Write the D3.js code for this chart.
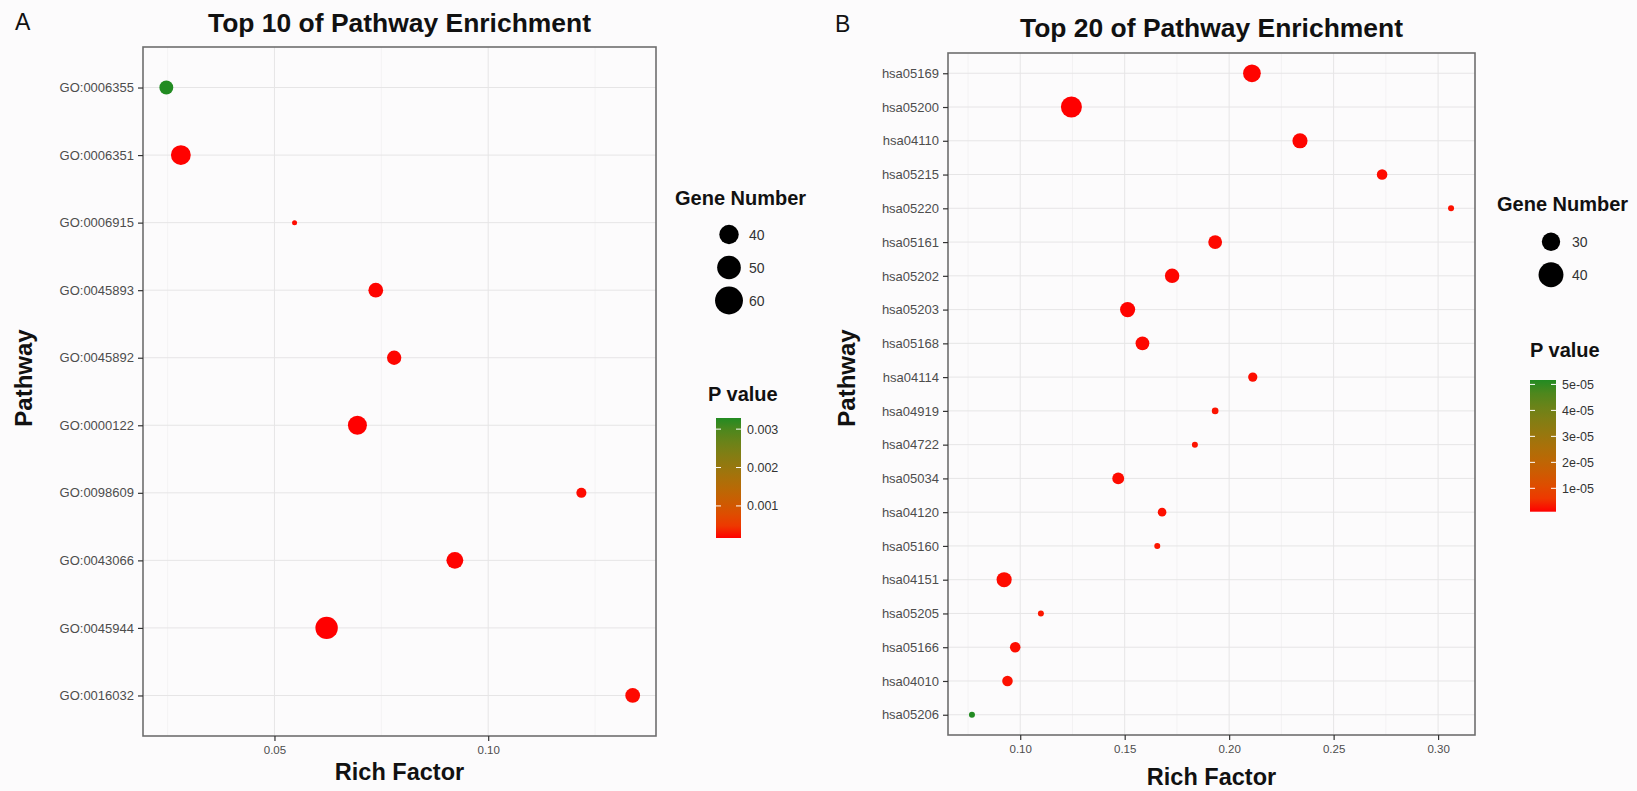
<!DOCTYPE html>
<html>
<head>
<meta charset="utf-8">
<script src="https://cdn.jsdelivr.net/npm/d3@7"></script>
<style>
  body { margin: 0; background: #fcfbfc; }
  svg { display: block; font-family: "Liberation Sans", Arial, sans-serif; }
  .tick text { fill: #4d4d4d; }
</style>
</head>
<body>
<script>
// Panel A: top 10
const rutasA  = ["GO:0006355", "GO:0006351", "GO:0006915", "GO:0045893", "GO:0045892",
                 "GO:0000122", "GO:0098609", "GO:0043066", "GO:0045944", "GO:0016032"];
const factorA = [0.0247, 0.0281, 0.0547, 0.0737, 0.0780, 0.0694, 0.1218, 0.0922, 0.0622, 0.1338];
const genesA  = [27, 41, 6, 29, 28, 39, 18, 34, 47, 29];
const pvalA   = [0.00329, 0.00017, 0.00019, 0.000175, 0.00018, 0.000165, 0.00019, 0.00017, 0.000165, 0.000185];
const ticksXA = [0.05, 0.10];
const leyendaGenesA = [40, 50, 60];
const ticksPA = [0.001, 0.002, 0.003];

// Panel B: top 20
const rutasB  = ["hsa05169", "hsa05200", "hsa04110", "hsa05215", "hsa05220", "hsa05161", "hsa05202",
                 "hsa05203", "hsa05168", "hsa04114", "hsa04919", "hsa04722", "hsa05034", "hsa04120",
                 "hsa05160", "hsa04151", "hsa05205", "hsa05166", "hsa04010", "hsa05206"];
const factorB = [0.2109, 0.1245, 0.2339, 0.2732, 0.3062, 0.1933, 0.1727, 0.1514, 0.1585, 0.2113,
                 0.1933, 0.1836, 0.1469, 0.1679, 0.1656, 0.0923, 0.1099, 0.0976, 0.0939, 0.0769];
const genesB  = [29, 34, 25, 18, 11, 23, 24, 25, 23, 16, 12, 11, 20, 15, 11, 25, 11, 18, 18, 11];
const pvalB   = [1.1e-6, 1.0e-6, 1.2e-6, 1.4e-6, 1.7e-6, 1.3e-6, 1.2e-6, 1.1e-6, 1.3e-6, 1.5e-6,
                 1.8e-6, 1.9e-6, 1.4e-6, 1.6e-6, 2.0e-6, 1.4e-6, 2.1e-6, 1.5e-6, 1.7e-6, 5.17e-5];
const ticksXB = [0.10, 0.15, 0.20, 0.25, 0.30];
const leyendaGenesB = [30, 40];
const ticksPB = [1e-5, 2e-5, 3e-5, 4e-5, 5e-5];

const svg = d3.select('body').append('svg')
  .attr('width', 1637).attr('height', 791);

svg.append('rect').attr('width', 1637).attr('height', 791).attr('fill', '#fcfbfc');

const formatoExp = d => d.toExponential(0).replace(/e-(\d)$/, 'e-0$1');

function dibujarPanel(p) {
  const g = svg.append('g');
  const [lo, hi] = d3.extent(p.factor);
  const w = hi - lo;

  const x = d3.scaleLinear().domain([lo - 0.05 * w, hi + 0.05 * w]).range([p.izq, p.der]);
  const y = d3.scalePoint().domain(p.rutas).range([p.arriba, p.abajo]).padding(0.6);
  const r = d3.scaleLinear().domain(d3.extent(p.genes)).range(p.radio);
  const color = d3.scaleLinear().domain(d3.extent(p.pval))
    .range(['#ff0000', '#228b22']).interpolate(d3.interpolateLab);

  // rejilla menor
  const paso = p.ticksX[1] - p.ticksX[0];
  const menores = [];
  for (let v = p.ticksX[0] - paso / 2; v <= x.domain()[1]; v += paso) {
    if (v >= x.domain()[0]) menores.push(v);
  }
  g.selectAll('line.menor').data(menores).join('line')
    .attr('x1', d => x(d)).attr('x2', d => x(d))
    .attr('y1', p.arriba).attr('y2', p.abajo)
    .attr('stroke', '#f1f0f1').attr('stroke-width', 0.8);

  // rejilla mayor
  g.selectAll('line.mayorx').data(p.ticksX).join('line')
    .attr('x1', d => x(d)).attr('x2', d => x(d))
    .attr('y1', p.arriba).attr('y2', p.abajo)
    .attr('stroke', '#e6e5e6').attr('stroke-width', 1);
  g.selectAll('line.mayory').data(p.rutas).join('line')
    .attr('x1', p.izq).attr('x2', p.der)
    .attr('y1', d => y(d)).attr('y2', d => y(d))
    .attr('stroke', '#e6e5e6').attr('stroke-width', 1);

  // puntos
  g.selectAll('circle.punto').data(p.rutas).join('circle')
    .attr('cx', (d, i) => x(p.factor[i]))
    .attr('cy', d => y(d))
    .attr('r', (d, i) => r(p.genes[i]))
    .attr('fill', (d, i) => color(p.pval[i]));

  // borde
  g.append('rect')
    .attr('x', p.izq).attr('y', p.arriba)
    .attr('width', p.der - p.izq).attr('height', p.abajo - p.arriba)
    .attr('fill', 'none').attr('stroke', '#6e6e6e').attr('stroke-width', 1.6);

  // ejes
  const ejeY = g.append('g').attr('transform', `translate(${p.izq},0)`)
    .call(d3.axisLeft(y).tickSize(5).tickPadding(4));
  const ejeX = g.append('g').attr('transform', `translate(0,${p.abajo})`)
    .call(d3.axisBottom(x).tickValues(p.ticksX).tickFormat(d3.format('.2f')).tickSize(5).tickPadding(5));
  [ejeY, ejeX].forEach(e => {
    e.select('.domain').remove();
    e.selectAll('.tick line').attr('stroke', '#333').attr('stroke-width', 1.2);
  });
  ejeY.selectAll('.tick text').style('font-size', '13px').style('font-family', 'inherit');
  ejeX.selectAll('.tick text').style('font-size', '11.5px').style('font-family', 'inherit');

  // textos
  g.append('text').attr('x', p.letraX).attr('y', p.letraY)
    .style('font-size', '23px').attr('fill', '#111').text(p.letra);
  g.append('text').attr('x', (p.izq + p.der) / 2).attr('y', p.tituloY)
    .attr('text-anchor', 'middle').style('font-size', '25px').style('font-weight', 'bold')
    .attr('textLength', 383).attr('lengthAdjust', 'spacingAndGlyphs')
    .attr('fill', '#111').text(p.titulo);
  g.append('text').attr('x', (p.izq + p.der) / 2).attr('y', p.richY)
    .attr('text-anchor', 'middle').style('font-size', '23.5px').style('font-weight', 'bold')
    .attr('fill', '#111').text('Rich Factor');
  g.append('text')
    .attr('transform', `translate(${p.pathX},${p.pathY}) rotate(-90)`)
    .attr('text-anchor', 'middle').style('font-size', '24px').style('font-weight', 'bold')
    .attr('fill', '#111').text('Pathway');

  // leyenda tamaño
  g.append('text').attr('x', p.leyTituloX).attr('y', p.leyTituloY)
    .style('font-size', '20px').style('font-weight', 'bold').attr('fill', '#111').text('Gene Number');
  const ley = g.selectAll('g.ley').data(p.leyenda).join('g')
    .attr('transform', (d, i) => `translate(${p.leyX},${p.leyY + i * 33})`);
  ley.append('circle').attr('r', d => r(d)).attr('fill', '#000');
  ley.append('text').attr('x', p.leyTextoX).attr('y', 5)
    .style('font-size', '14px').attr('fill', '#333').text(d => d);

  // barra de color
  const id = 'grad' + p.letra;
  const [pmin, pmax] = d3.extent(p.pval);
  const grad = svg.append('defs').append('linearGradient').attr('id', id)
    .attr('x1', 0).attr('y1', 1).attr('x2', 0).attr('y2', 0);
  grad.selectAll('stop').data(d3.range(0, 1.0001, 0.1)).join('stop')
    .attr('offset', d => d).attr('stop-color', d => color(pmin + d * (pmax - pmin)));

  g.append('text').attr('x', p.barra.x0 - 22 + p.pTituloDx).attr('y', p.pTituloY)
    .style('font-size', '20px').style('font-weight', 'bold').attr('fill', '#111').text('P value');
  g.append('rect').attr('x', p.barra.x0).attr('y', p.barra.y0)
    .attr('width', p.barra.x1 - p.barra.x0).attr('height', p.barra.y1 - p.barra.y0)
    .attr('fill', `url(#${id})`);
  const yP = d3.scaleLinear().domain([pmin, pmax]).range([p.barra.y1, p.barra.y0]);
  const marcas = g.selectAll('g.marca').data(p.ticksP).join('g')
    .attr('transform', d => `translate(0,${yP(d)})`);
  marcas.append('line').attr('x1', p.barra.x0).attr('x2', p.barra.x0 + 5)
    .attr('stroke', '#fff').attr('stroke-width', 1);
  marcas.append('line').attr('x1', p.barra.x1 - 5).attr('x2', p.barra.x1)
    .attr('stroke', '#fff').attr('stroke-width', 1);
  marcas.append('text').attr('x', p.barra.x1 + 6).attr('y', 4.5)
    .style('font-size', '12.5px').attr('fill', '#333').text(d => p.formatoP(d));
}

dibujarPanel({
  letra: 'A', letraX: 15, letraY: 29.5,
  titulo: 'Top 10 of Pathway Enrichment', tituloY: 31.5,
  rutas: rutasA, factor: factorA, genes: genesA, pval: pvalA,
  ticksX: ticksXA, leyenda: leyendaGenesA, ticksP: ticksPA,
  formatoP: d3.format('.3f'),
  izq: 143, der: 656, arriba: 47, abajo: 736,
  radio: [2.5, 11.2],
  richY: 780, pathX: 31.5, pathY: 378,
  leyTituloX: 675, leyTituloY: 205, leyX: 729, leyY: 234.5, leyTextoX: 20,
  pTituloDx: 14, pTituloY: 400.5,
  barra: { x0: 716, x1: 741, y0: 418, y1: 538 }
});

dibujarPanel({
  letra: 'B', letraX: 835, letraY: 31.7,
  titulo: 'Top 20 of Pathway Enrichment', tituloY: 37.3,
  rutas: rutasB, factor: factorB, genes: genesB, pval: pvalB,
  ticksX: ticksXB, leyenda: leyendaGenesB, ticksP: ticksPB,
  formatoP: formatoExp,
  izq: 948, der: 1475, arriba: 53, abajo: 735,
  radio: [3, 10.5],
  richY: 785, pathX: 855, pathY: 378,
  leyTituloX: 1497, leyTituloY: 211, leyX: 1551, leyY: 241.7, leyTextoX: 21,
  pTituloDx: 22, pTituloY: 357.3,
  barra: { x0: 1530, x1: 1556, y0: 380, y1: 511.7 }
});
</script>
</body>
</html>
